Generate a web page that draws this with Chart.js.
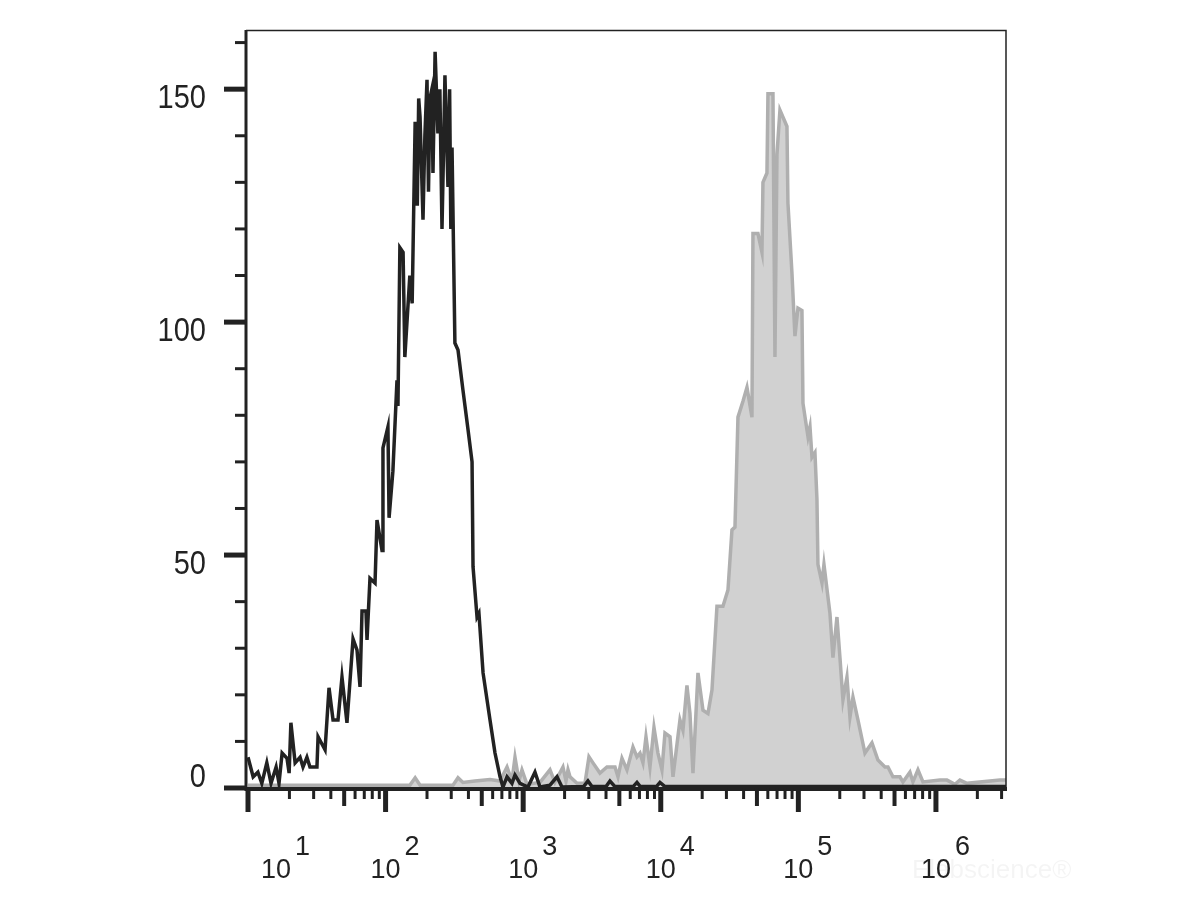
<!DOCTYPE html>
<html>
<head>
<meta charset="utf-8">
<script src="https://cdn.jsdelivr.net/npm/chart.js@4.4.1/dist/chart.umd.min.js"></script>
<style>
    html, body { margin: 0; padding: 0; background: #fff; }
    #wrap { width: 1200px; height: 900px; }
</style>
</head>
<body>
<div id="wrap"><canvas id="histogramOutput" width="1200" height="900"></canvas></div>
<script>
// black outline histogram (control)
var controlX = [10, 10.9, 11.8, 12.6, 13.7, 14.7, 16.0, 16.8, 17.7, 19.2,
    19.9, 20.5, 22.0, 23.9, 25.1, 26.8, 28.2, 31.7, 32.3, 36.3,
    38.8, 41.5, 45.1, 48.2, 52.4, 58.0, 62.0, 65.2, 67.4, 72.0,
    73.3, 77.0, 83.8, 86.6, 94.2, 95.7, 104, 106, 113, 121,
    123, 127, 134, 138, 150, 156, 164, 170, 174, 178,
    187, 193, 200, 205, 210, 217, 221, 229, 240, 248,
    257, 263, 270, 284, 292, 298, 304, 319, 336,
    365, 397, 425, 432, 462, 477, 511, 574, 624, 679,
    713, 763, 829, 872, 948, 1083, 1218, 1325, 1566, 1761,
    1914, 2750, 2957, 3162, 4000, 4274, 4647, 6300, 6714, 7100,
    9300, 9867, 10730, 3230000];
var controlY = [6.6, 2.4, 3.4, 1, 5.4, 1, 4.5, 1, 7.5, 6.4,
    3.2, 14, 5.4, 6.6, 4.5, 6.6, 4.5, 4.5, 11, 8.2,
    21.5, 14.6, 14.6, 23.8, 14, 32, 29.6, 21.7, 38, 38,
    31.8, 45, 44, 57.5, 51, 73, 77.5, 58, 68, 87.5,
    82, 116, 115, 92.5, 110, 104, 143, 125, 148, 144,
    122, 140, 152, 128, 148, 150, 132, 158, 140.5, 150,
    120, 135, 153, 129, 150, 120, 137.5, 95.5, 94,
    85.4, 77, 70, 47.5, 36.7, 37.5, 24.7, 14.6, 7.5, 2.4,
    0.2, 2.4, 1, 2.8, 1, 0.2, 3.4, 0.2, 0.6, 2.4,
    0.2, 0.3, 1.5, 0.3, 0.3, 1.5, 0.3, 0.3, 1.2, 0.3,
    0.3, 1.2, 0.3, 0.3];

// grey filled histogram (stained)
var stainedX = [10, 150, 164, 178, 309, 336, 365, 446, 574, 679,
    763, 829, 872, 932, 980, 1066, 1325, 1566, 1702, 1946,
    2047, 2117, 2189, 2461, 2812, 3007, 3216, 3615, 4064, 4647,
    4887, 5224, 5680, 6281, 6714, 7061, 7424, 7806, 8347, 8925,
    9543, 10200, 10730, 11670, 12270, 13790, 14500, 15500, 16300, 17140,
    18640, 20270, 22030, 23560, 25610, 28310, 30790, 32920, 34620, 36400,
    39580, 42320, 46000, 46780, 50870, 54380, 55300, 59130, 60130, 65380,
    67600, 69910, 73500, 82640, 84020, 89840, 94460, 99330, 106200, 108000,
    117500, 121500, 125600, 132000, 136500, 138800, 148500, 153500, 169700, 178400,
    190800, 200600, 210900, 225500, 237100, 249400, 271100, 304800, 342700, 378800,
    426000, 448000, 486900, 547500, 575700, 647100, 680400, 740100, 804500, 1069000,
    1202000, 1374000, 1494000, 1680000, 2919000, 3230000];
var stainedY = [0.6, 0.6, 2.2, 0.6, 0.6, 2.2, 1.2, 1.5, 1.8, 1.5,
    4.5, 1.5, 6.6, 1.5, 3.9, 0.8, 1.2, 3.9, 1.2, 4.5,
    1.5, 3.9, 2.4, 1, 1, 6.7, 5.4, 3.2, 4.5, 4.5,
    2.4, 6.4, 3.9, 8.8, 6.7, 7.5, 5.4, 11, 4.5, 13,
    7.5, 3.9, 11.8, 11, 2.4, 14.6, 12.4, 22, 16, 3.2,
    24.7, 16.7, 16, 21, 39, 39, 42.5, 55.4, 56, 79.6,
    83, 86, 79.6, 119, 119, 115, 130, 132, 149, 149,
    92.5, 136, 145.5, 142, 125.5, 110.5, 97, 103, 102.5, 82.6,
    75.4, 77.5, 71, 72, 62, 48, 44, 48, 37.5, 28,
    36.7, 28, 18.9, 23.8, 15.2, 19.5, 14.6, 7.5, 9.7, 6,
    4.5, 4.5, 2.4, 2.4, 1.3, 3.4, 1.3, 3.9, 1.3, 1.7,
    1.7, 0.8, 1.7, 1, 1.7, 1.7];

var yLabels = [0, 50, 100, 150];
var xDecades = [1, 2, 3, 4, 5, 6];

var ink = '#222222';

function toPoints(xs, ys) {
    return xs.map(function (x, i) { return { x: x, y: ys[i] }; });
}

// draws the frame, the tick marks and the 10^n labels from the chart's own scales
var axesPlugin = {
    id: 'flowAxes',
    afterDatasetsDraw: function (chart) {
        var ctx = chart.ctx;
        var xs = chart.scales.x, ys = chart.scales.y;
        var a = chart.chartArea;
        ctx.save();
        ctx.strokeStyle = ink;
        ctx.fillStyle = ink;

        ctx.lineWidth = 1.5;
        ctx.beginPath();
        ctx.moveTo(a.left, a.top + 0.5);
        ctx.lineTo(a.right, a.top + 0.5);
        ctx.lineTo(a.right, a.bottom);
        ctx.stroke();

        ctx.lineWidth = 3;
        ctx.beginPath();
        ctx.moveTo(a.left, a.top);
        ctx.lineTo(a.left, a.bottom + 3);
        ctx.stroke();
        ctx.lineWidth = 4;
        ctx.beginPath();
        ctx.moveTo(a.left - 1, a.bottom + 1);
        ctx.lineTo(a.right + 1, a.bottom + 1);
        ctx.stroke();

        // y ticks every 10, long ones every 50
        for (var v = 0; v <= 160; v += 10) {
            var py = ys.getPixelForValue(v);
            var major = v % 50 === 0;
            ctx.lineWidth = major ? 5 : 3;
            ctx.beginPath();
            ctx.moveTo(a.left - (major ? 22 : 11), py);
            ctx.lineTo(a.left, py);
            ctx.stroke();
        }

        // x ticks on the log scale
        xDecades.forEach(function (n) {
            for (var m = 1; m <= 9; m++) {
                var val = m * Math.pow(10, n);
                if (val > xs.max) break;
                var px = xs.getPixelForValue(val);
                var len = m === 1 ? 24 : (m === 5 ? 18 : 11);
                ctx.lineWidth = m === 1 ? 5 : (m === 5 ? 4 : 3);
                ctx.beginPath();
                ctx.moveTo(px, a.bottom);
                ctx.lineTo(px, a.bottom + len);
                ctx.stroke();
            }
        });

        // y labels
        ctx.font = '29px "Liberation Sans", Arial, sans-serif';
        ctx.textAlign = 'right';
        ctx.textBaseline = 'alphabetic';
        yLabels.forEach(function (v) {
            var py = ys.getPixelForValue(v);
            var base = v === 0 ? py - 1 : py + 19;
            ctx.save();
            ctx.translate(a.left - 40, base);
            ctx.scale(1, 1.14);
            ctx.fillText(String(v), 0, 0);
            ctx.restore();
        });

        // x labels: "10" with a raised exponent
        ctx.font = '27px "Liberation Sans", Arial, sans-serif';
        ctx.textAlign = 'left';
        xDecades.forEach(function (n) {
            var px = xs.getPixelForValue(Math.pow(10, n));
            if (n === 1) px += 28;
            var w = ctx.measureText('10').width;
            ctx.save();
            ctx.translate(px - w / 2, a.bottom + 90);
            ctx.scale(1, 1.05);
            ctx.fillText('10', 0, 0);
            ctx.restore();
            ctx.save();
            ctx.translate(px + w / 2 + 4, a.bottom + 67);
            ctx.scale(1, 1.05);
            ctx.fillText(String(n), 0, 0);
            ctx.restore();
        });

        // faint watermark
        ctx.fillStyle = 'rgba(0,0,0,0.045)';
        ctx.font = '26px "Liberation Sans", Arial, sans-serif';
        ctx.fillText('Elabscience\u00AE', 912, a.bottom + 90);
        ctx.restore();
    }
};

var ctx = document.getElementById('histogramOutput').getContext('2d');
var chart = new Chart(ctx, {
    type: 'line',
    data: {
        datasets: [{
            label: 'Control',
            data: toPoints(controlX, controlY),
            borderColor: ink,
            borderWidth: 3.5,
            pointRadius: 0,
            tension: 0,
            fill: false,
            order: 0
        }, {
            label: 'Stained',
            data: toPoints(stainedX, stainedY),
            borderColor: '#afafaf',
            backgroundColor: '#d1d1d1',
            borderWidth: 3.5,
            pointRadius: 0,
            tension: 0,
            fill: 'origin',
            order: 1
        }]
    },
    options: {
        responsive: false,
        animation: false,
        layout: { padding: { left: 246, right: 194, top: 30, bottom: 112 } },
        plugins: { legend: { display: false }, tooltip: { enabled: false } },
        scales: {
            x: { type: 'logarithmic', min: 9.67, max: 3230000, display: false },
            y: { type: 'linear', min: 0, max: 162.7, display: false }
        }
    },
    plugins: [axesPlugin]
});
</script>
</body>
</html>
